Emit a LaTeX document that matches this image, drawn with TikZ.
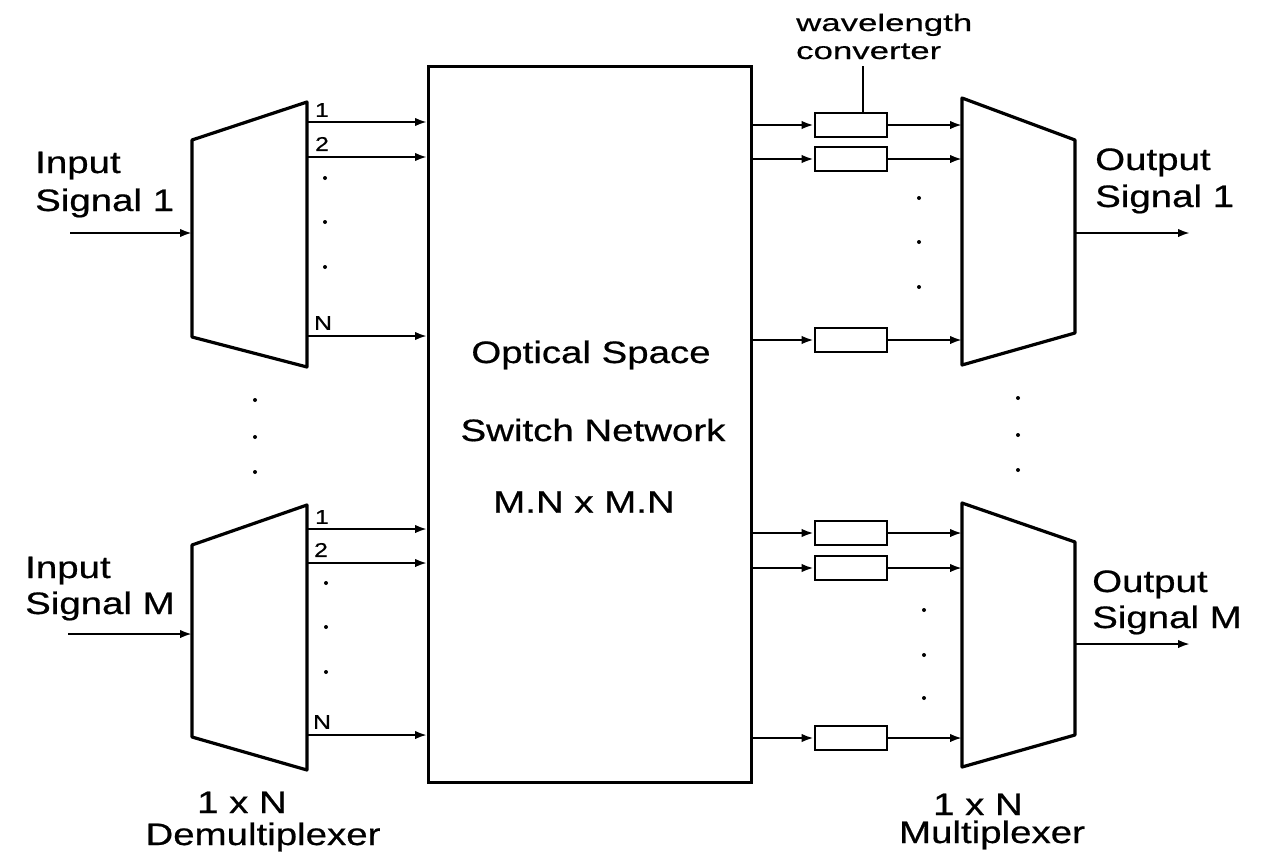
\documentclass[tikz,border=0pt]{standalone}
\usepackage{fontspec}
\setmainfont{Liberation Sans}[FakeStretch=1.24,FakeBold=0.6]
\newfontfamily\widelabelfont{Liberation Sans}[FakeStretch=1.45,FakeBold=0.4]
\usetikzlibrary{arrows.meta}
\begin{document}
\begin{tikzpicture}[x=1pt,y=-1pt,
  shp/.style={line width=3.2pt, line join=round},
  arr/.style={line width=2.2pt, -{Latex[length=12pt,width=8.5pt]}},
  conv/.style={draw, line width=2.8pt, minimum width=72pt, minimum height=24pt, inner sep=0pt},
  big/.style={font=\fontsize{31}{36}\selectfont, inner sep=0pt},
  small/.style={font=\fontsize{20}{24}\selectfont, inner sep=0pt},
  tiny/.style={font=\widelabelfont\fontsize{24}{26}\selectfont, inner sep=0pt},
  dot/.style={circle, fill, inner sep=0pt, minimum size=4pt}]
\useasboundingbox[fill=white] (0,0) rectangle (1263,862);

% switch
\node[draw, line width=3.2pt, minimum width=323pt, minimum height=716pt, anchor=north west, inner sep=0pt] (sw) at (427,65) {};
\node[big] (t1) at (591,355) {Optical Space};
\node[big] (t2) at (593,430) {Switch Network};
\node[big] (t3) at (584,502) {M.N x M.N};

% demux 1
\coordinate (d1tl) at (192,140); \coordinate (d1tr) at (307,102);
\coordinate (d1br) at (307,367); \coordinate (d1bl) at (192,337);
\draw[shp] (d1tl) -- (d1tr) -- (d1br) -- (d1bl) -- cycle;
% demux M
\coordinate (dmtl) at (192,545); \coordinate (dmtr) at (307,505);
\coordinate (dmbr) at (307,770); \coordinate (dmbl) at (192,737);
\draw[shp] (dmtl) -- (dmtr) -- (dmbr) -- (dmbl) -- cycle;
% mux 1
\coordinate (m1tl) at (962,98); \coordinate (m1tr) at (1075,140);
\coordinate (m1br) at (1075,333); \coordinate (m1bl) at (962,365);
\draw[shp] (m1tl) -- (m1tr) -- (m1br) -- (m1bl) -- cycle;
% mux M
\coordinate (mmtl) at (962,503); \coordinate (mmtr) at (1075,542);
\coordinate (mmbr) at (1075,735); \coordinate (mmbl) at (962,767);
\draw[shp] (mmtl) -- (mmtr) -- (mmbr) -- (mmbl) -- cycle;

% inputs
\coordinate (in1) at (70,233); \coordinate (inM) at (68,634);
\draw[arr] (in1) -- (in1 -| d1tl);
\draw[arr] (inM) -- (inM -| dmtl);
\node[big, anchor=base west] (il1a) at (35,173) {Input};
\node[big, anchor=base west] (il1b) at (35,211) {Signal 1};
\node[big, anchor=base west] (ilMa) at (25,578) {Input};
\node[big, anchor=base west] (ilMb) at (25,614) {Signal M};

% demux outputs
\foreach \y/\n in {122/a,157/b,336/c}{
  \coordinate (d1o\n) at (307,\y);
  \draw[arr] (d1o\n) -- (d1o\n -| sw.west);
}
\foreach \y/\n in {529/a,563/b,735/c}{
  \coordinate (dmo\n) at (307,\y);
  \draw[arr] (dmo\n) -- (dmo\n -| sw.west);
}
\node[small] (l11) at (322,110) {1};
\node[small] (l12) at (322,144) {2};
\node[small] (l1N) at (323,323) {N};
\node[small] (lM1) at (322,517) {1};
\node[small] (lM2) at (321,550) {2};
\node[small] (lMN) at (322,722) {N};
\foreach \y in {178,222,267}{\node[dot] at (325,\y) {};}
\foreach \y in {583,627,672}{\node[dot] at (326,\y) {};}
\foreach \y in {400,437,472}{\node[dot] at (255,\y) {};}
\foreach \y in {398,435,470}{\node[dot] at (1018,\y) {};}

% converters
\foreach \y/\n in {125/a,159/b,340/c}{
  \node[conv] (c1\n) at (851,\y) {};
  \draw[arr] (c1\n.west -| sw.east) -- (c1\n.west);
  \draw[arr] (c1\n.east) -- (c1\n.east -| m1tl);
}
\foreach \y/\n in {533/a,568/b,738/c}{
  \node[conv] (cm\n) at (851,\y) {};
  \draw[arr] (cm\n.west -| sw.east) -- (cm\n.west);
  \draw[arr] (cm\n.east) -- (cm\n.east -| mmtl);
}
\foreach \y in {198,242,287}{\node[dot] at (919,\y) {};}
\foreach \y in {610,655,698}{\node[dot] at (924,\y) {};}

\node[tiny, anchor=base west] (wl1) at (796,31) {wavelength};
\node[tiny, anchor=base west] (wl2) at (796,59) {converter};
\coordinate (stem) at (863,66);
\draw[line width=2pt] (stem) -- (stem |- c1a.north);

% outputs
\coordinate (o1) at (1190,233); \coordinate (oM) at (1190,644);
\draw[arr] (o1 -| m1tr) -- (o1);
\draw[arr] (oM -| mmtr) -- (oM);
\node[big, anchor=base west] (ol1a) at (1095,170) {Output};
\node[big, anchor=base west] (ol1b) at (1095,207) {Signal 1};
\node[big, anchor=base west] (olMa) at (1092,592) {Output};
\node[big, anchor=base west] (olMb) at (1092,628) {Signal M};

% bottom labels
\node[big, anchor=base] (b1) at (242,813) {1 x N};
\node[big, anchor=base] (b2) at (263,845) {Demultiplexer};
\node[big, anchor=base] (b3) at (978,815) {1 x N};
\node[big, anchor=base] (b4) at (992,843) {Multiplexer};
\end{tikzpicture}
\end{document}
